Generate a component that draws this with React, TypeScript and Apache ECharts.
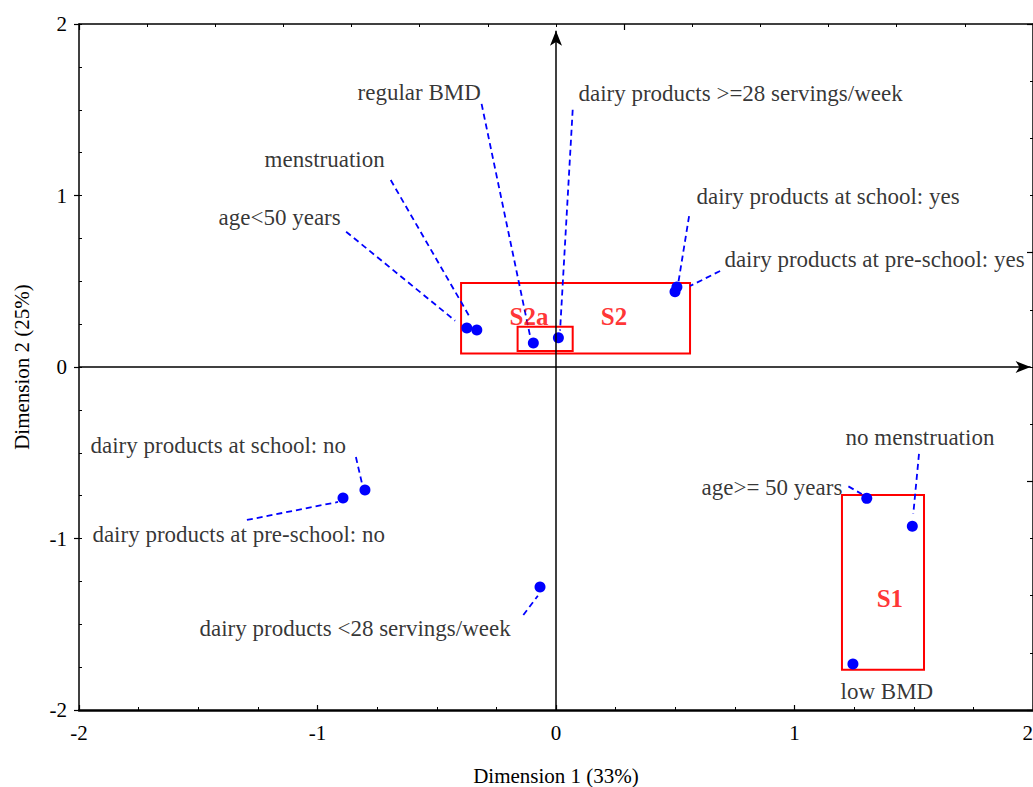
import React, { useEffect, useRef } from "react";
import * as echarts from "echarts";

const FONT = "'Liberation Serif', 'Times New Roman', Times, serif";

// Points (Dimension 1, Dimension 2)
const pointNames = [
  "age<50 years",
  "menstruation",
  "regular BMD",
  "dairy products >=28 servings/week",
  "dairy products at school: yes",
  "dairy products at pre-school: yes",
  "dairy products at school: no",
  "dairy products at pre-school: no",
  "dairy products <28 servings/week",
  "age>= 50 years",
  "no menstruation",
  "low BMD",
];
const pointX = [-0.374, -0.332, -0.095, 0.010, 0.499, 0.507, -0.801, -0.893, -0.067, 1.303, 1.494, 1.245];
const pointY = [0.227, 0.216, 0.140, 0.171, 0.439, 0.466, -0.717, -0.764, -1.283, -0.766, -0.929, -1.732];

// Label anchors (left-middle of each text), in data units
const labelX = [-1.417, -1.224, -0.834, 0.092, 0.587, 0.704, -1.954, -1.946, -1.497, 0.608, 1.212, 1.191];
const labelY = [0.869, 1.207, 1.603, 1.592, 0.994, 0.627, -0.455, -0.977, -1.522, -0.704, -0.411, -1.895];

// Dashed leader lines (from label side to point side), in data units
const leaderFromX = [-0.880, -0.693, -0.312, 0.070, 0.558, 0.688, -0.839, -1.296, -0.137, 1.226, 1.522, null];
const leaderFromY = [0.789, 1.090, 1.534, 1.500, 0.880, 0.560, -0.525, -0.892, -1.446, -0.696, -0.507, null];
const leaderToX = [-0.423, -0.361, -0.109, 0.017, 0.512, 0.562, -0.811, -0.914, -0.076, 1.282, 1.498, null];
const leaderToY = [0.270, 0.290, 0.183, 0.212, 0.484, 0.472, -0.694, -0.787, -1.334, -0.741, -0.857, null];

// Group boxes
const boxNames = ["S2", "S2a", "S1"];
const boxX0 = [-0.398, -0.161, 1.199];
const boxX1 = [0.562, 0.070, 1.543];
const boxY0 = [0.078, 0.093, -1.765];
const boxY1 = [0.490, 0.235, -0.746];
const boxLabelX = [0.243, -0.113, 1.400];
const boxLabelY = [0.297, 0.292, -1.347];

// Axis settings
const axisMin = -2;
const axisMax = 2;
const arrowEndX = 1.99;
const arrowEndY = 1.96;

export default function App() {
  const ref = useRef<HTMLDivElement>(null);

  useEffect(() => {
    if (!ref.current) return;
    const chart = echarts.init(ref.current, undefined, { renderer: "svg" });

    const black = "#000";
    const hidden = { show: false };

    const points = pointNames.map((n, i) => ({ name: n, value: [pointX[i], pointY[i]] }));
    const labels = pointNames.map((n, i) => ({ name: n, value: [labelX[i], labelY[i]] }));
    const leaders = pointNames
      .map((n, i) =>
        leaderFromX[i] == null
          ? null
          : {
              name: n,
              coords: [
                [leaderFromX[i], leaderFromY[i]],
                [leaderToX[i], leaderToY[i]],
              ],
            }
      )
      .filter(Boolean);
    const boxes = boxNames.map((n, i) => [
      { coord: [boxX0[i], boxY1[i]] },
      { coord: [boxX1[i], boxY0[i]] },
    ]);
    const boxLabels = boxNames.map((n, i) => ({ name: n, value: [boxLabelX[i], boxLabelY[i]] }));

    const option: any = {
      animation: false,
      backgroundColor: "#ffffff",
      grid: {
        left: 79,
        top: 24,
        right: 0,
        bottom: 77,
        containLabel: false,
        outerBoundsMode: "none",
      },
      xAxis: [
        {
          type: "value",
          position: "bottom",
          min: axisMin,
          max: axisMax,
          interval: 1,
          axisLine: { show: true, onZero: false, lineStyle: { color: black, width: 2.5 } },
          axisTick: { show: true, inside: true, length: 5, lineStyle: { color: black, width: 1.2 } },
          minorTick: { show: true, splitNumber: 4, length: 3, lineStyle: { color: black, width: 1 } },
          axisLabel: { color: black, fontFamily: FONT, fontSize: 21, margin: 12, alignMaxLabel: "right" },
          splitLine: hidden,
          name: "Dimension 1 (33%)",
          nameLocation: "middle",
          nameGap: 55,
          nameTextStyle: { color: black, fontFamily: FONT, fontSize: 21 },
        },
        {
          type: "value",
          position: "top",
          min: 0,
          max: 14,
          interval: 1,
          axisLine: { show: true, onZero: false, lineStyle: { color: black, width: 1.5 } },
          axisTick: { show: true, inside: true, length: 3, lineStyle: { color: black, width: 1 } },
          axisLabel: hidden,
          splitLine: hidden,
        },
        {
          type: "value",
          position: "top",
          min: -2,
          max: 12,
          interval: 8,
          axisLine: { show: false, onZero: false },
          axisTick: { show: true, inside: true, length: 6, lineStyle: { color: black, width: 1.2 } },
          axisLabel: hidden,
          splitLine: hidden,
        },
      ],
      yAxis: [
        {
          type: "value",
          position: "left",
          min: axisMin,
          max: axisMax,
          interval: 1,
          axisLine: { show: true, onZero: false, lineStyle: { color: black, width: 1.5 } },
          axisTick: { show: true, inside: false, length: 5, lineStyle: { color: black, width: 1.2 } },
          axisLabel: { color: black, fontFamily: FONT, fontSize: 21, margin: 12 },
          splitLine: hidden,
          name: "Dimension 2 (25%)",
          nameLocation: "middle",
          nameGap: 47,
          nameTextStyle: { color: black, fontFamily: FONT, fontSize: 21 },
        },
        {
          type: "value",
          position: "left",
          min: axisMin,
          max: axisMax,
          interval: 0.25,
          axisLine: { show: false, onZero: false },
          axisTick: { show: true, inside: true, length: 3, lineStyle: { color: black, width: 1 } },
          axisLabel: hidden,
          splitLine: hidden,
        },
        {
          type: "value",
          position: "right",
          min: 0,
          max: 12,
          interval: 1,
          axisLine: { show: true, onZero: false, lineStyle: { color: black, width: 1.5 } },
          axisTick: { show: true, inside: true, length: 3, lineStyle: { color: black, width: 1 } },
          axisLabel: hidden,
          splitLine: hidden,
        },
        {
          type: "value",
          position: "right",
          min: 0,
          max: 12,
          interval: 4,
          axisLine: { show: false, onZero: false },
          axisTick: { show: true, inside: true, length: 6, lineStyle: { color: black, width: 1.2 } },
          axisLabel: hidden,
          splitLine: hidden,
        },
      ],
      series: [
        {
          type: "lines",
          coordinateSystem: "cartesian2d",
          xAxisIndex: 0,
          yAxisIndex: 0,
          data: leaders,
          silent: true,
          z: 3,
          lineStyle: { color: "#0000ff", width: 1.8, type: [6, 4], opacity: 1 },
        },
        {
          type: "scatter",
          xAxisIndex: 0,
          yAxisIndex: 0,
          data: points,
          symbol: "circle",
          symbolSize: 11,
          z: 4,
          silent: true,
          itemStyle: { color: "#0000ff", opacity: 1 },
          markLine: {
            silent: true,
            symbol: ["none", "arrow"],
            symbolSize: [9, 15],
            label: { show: false },
            lineStyle: { color: black, width: 1.5, type: "solid", opacity: 1 },
            data: [
              [{ coord: [0, axisMin] }, { coord: [0, arrowEndY] }],
              [{ coord: [axisMin, 0] }, { coord: [arrowEndX, 0] }],
            ],
          },
          markArea: {
            silent: true,
            label: { show: false },
            itemStyle: { color: "rgba(0,0,0,0)", borderColor: "#ff0000", borderWidth: 2, opacity: 1 },
            data: boxes,
          },
        },
        {
          type: "scatter",
          xAxisIndex: 0,
          yAxisIndex: 0,
          data: labels,
          symbolSize: 1,
          silent: true,
          clip: false,
          z: 5,
          itemStyle: { color: "rgba(0,0,0,0)" },
          label: {
            show: true,
            formatter: "{b}",
            position: "right",
            distance: 0,
            align: "left",
            verticalAlign: "middle",
            color: black,
            fontFamily: FONT,
            fontSize: 23,
          },
        },
        {
          type: "scatter",
          xAxisIndex: 0,
          yAxisIndex: 0,
          data: boxLabels,
          symbolSize: 1,
          silent: true,
          z: 5,
          itemStyle: { color: "rgba(0,0,0,0)" },
          label: {
            show: true,
            formatter: "{b}",
            position: "inside",
            align: "center",
            verticalAlign: "middle",
            color: "#ff0000",
            fontFamily: FONT,
            fontWeight: "bold",
            fontSize: 25,
          },
        },
      ],
    };

    chart.setOption(option);
    return () => chart.dispose();
  }, []);

  return (
    <div
      ref={ref}
      style={{ position: "absolute", left: 0, top: 0, width: 1033, height: 787, background: "#fff" }}
    />
  );
}
